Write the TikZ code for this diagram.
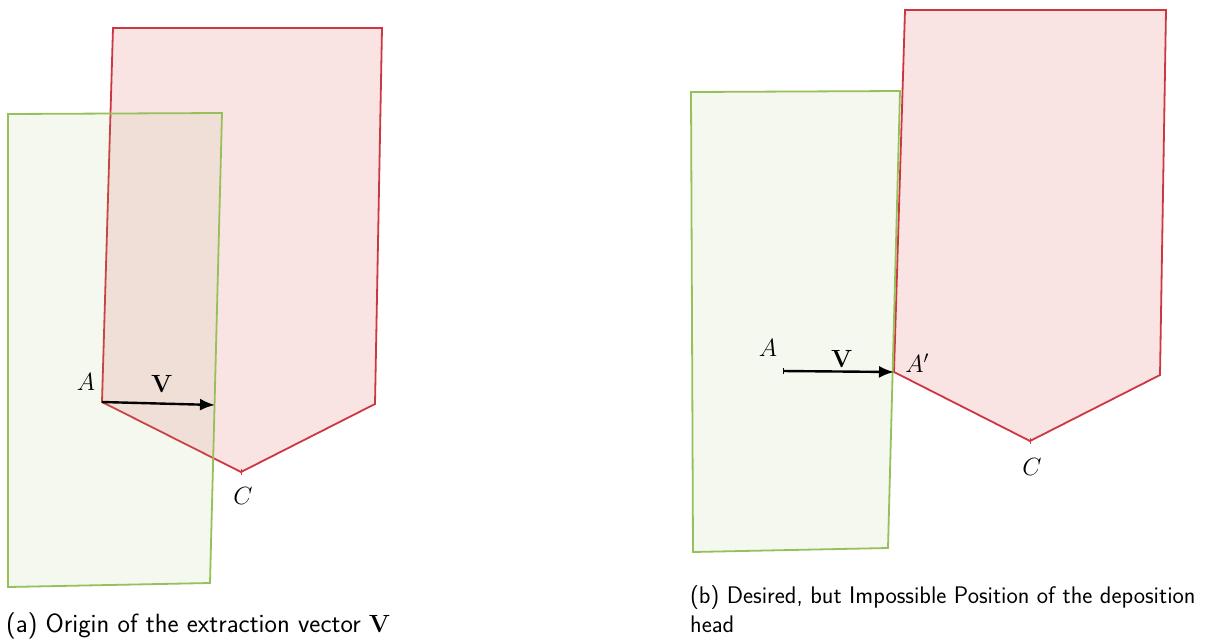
\documentclass[tikz,border=0pt]{standalone}
\usetikzlibrary{arrows.meta}
\definecolor{gline}{RGB}{150,192,90}
\definecolor{gfill}{RGB}{160,190,110}
\definecolor{rline}{RGB}{205,55,65}
\definecolor{rfill}{RGB}{225,90,90}
\tikzset{
  greenbox/.style={draw=gline,line width=1.8pt,fill=gfill,fill opacity=0.11,draw opacity=1,line join=miter},
  redbox/.style={draw=rline,line width=1.8pt,fill=rfill,fill opacity=0.17,draw opacity=1,line join=miter},
  vec/.style={line width=2.4pt,-{Latex[length=15pt,width=12pt]}},
  lbl/.style={font=\fontsize{26}{30}\selectfont,inner sep=0pt},
  captext/.style={font=\fontsize{26.4}{38}\selectfont\sffamily,inner sep=0pt,anchor=base west},
  captextb/.style={font=\fontsize{24}{38}\selectfont\sffamily,inner sep=0pt,anchor=base west},
}
\begin{document}
\begin{tikzpicture}[x=1pt,y=-1pt]
\useasboundingbox (0,0) rectangle (1210,641);
% left panel
\coordinate (A1) at (102,402);
\coordinate (C1) at (241,472);
\coordinate (E1) at (215,405);
\draw[redbox] (113,28) -- (382,28) -- (375,404) -- (C1) -- (A1) -- cycle;
\draw[greenbox] (8,114) -- (222,113) -- (210,583) -- (8,587) -- cycle;
\draw[vec] (A1) -- (E1);
\draw[rline,line width=1pt] ([yshift=-3pt]C1) -- ([yshift=3pt]C1);
\node[lbl] (la1) at (86,382) {$A$};
\node[lbl] (lv1) at (162,384) {$\mathbf{V}$};
\node[lbl] (lc1) at (243,496) {$C$};
% right panel
\coordinate (A2) at (783,371);
\coordinate (P2) at (894,372);
\coordinate (C2) at (1030,441);
\draw[redbox] (905,10) -- (1166,10) -- (1160,375) -- (C2) -- (P2) -- cycle;
\draw[greenbox] (691,92) -- (900,91) -- (888,548) -- (693,552) -- cycle;
\draw[vec] (A2) -- (P2);
\draw[black,line width=0.8pt] ([yshift=-3pt]A2) -- ([yshift=3pt]A2);
\draw[rline,line width=1pt] ([yshift=-3pt]C2) -- ([yshift=3pt]C2);
\node[lbl] (la2) at (768,348) {$A$};
\node[lbl] (lv2) at (842,359) {$\mathbf{V}$};
\node[lbl] (lp2) at (917,363) {$A'$};
\node[lbl] (lc2) at (1032,467) {$C$};
% captions
\node[captext] (capa) at (6,632) {(a) Origin of the extraction vector $\mathbf{V}$};
\node[captextb] (capb) at (690,603) {(b) Desired, but Impossible Position of the deposition};
\node[captextb] (capb2) at (690,632) {head};
\end{tikzpicture}
\end{document}
